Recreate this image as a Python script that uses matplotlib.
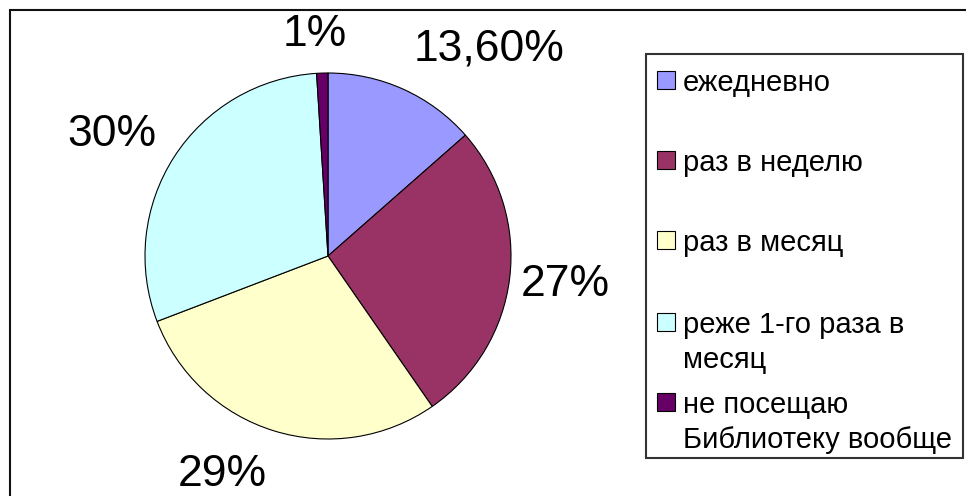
import matplotlib.pyplot as plt
from matplotlib.patches import Rectangle

# data
categories = ['ежедневно', 'раз в неделю', 'раз в месяц',
              'реже 1-го раза в\nмесяц', 'не посещаю\nБиблиотеку вообще']
values = [13.6, 27, 29, 30, 1]
value_labels = ['13,60%', '27%', '29%', '30%', '1%']
colors = ['#9999FF', '#993366', '#FFFFCC', '#CCFFFF', '#660066']

W, H = 966, 496
plt.rcParams['font.family'] = ['Liberation Sans', 'DejaVu Sans']

fig = plt.figure(figsize=(W / 100, H / 100), dpi=100)
ax = fig.add_axes([0, 0, 1, 1])
ax.set_xlim(0, W)
ax.set_ylim(0, H)
ax.set_aspect('equal')
ax.axis('off')

# outer frame (only top and left visible)
ax.add_patch(Rectangle((10, -20), 1000, H - 10 + 20, fill=False,
                       edgecolor='#111111', lw=1.5))

cx, cy, r = 328, H - 256, 183
ax.pie(values, colors=colors, startangle=90, counterclock=False,
       center=(cx, cy), radius=r, normalize=True,
       wedgeprops=dict(edgecolor='black', linewidth=0.8))
ax.set_xlim(0, W)
ax.set_ylim(0, H)

# percentage labels (pixel positions, y from top)
label_pos = [(489, 49), (565, 284), (222, 475), (112, 134), (315, 34)]
for txt, (x, y) in zip(value_labels, label_pos):
    ax.text(x, H - y, txt, fontsize=32, ha='center', va='center')

# legend
ax.add_patch(Rectangle((646, H - 458), 963 - 646, 458 - 54, fill=False,
                       edgecolor='#333333', lw=1.5))
entry_y = [80, 160, 240, 322, 402]
line_step = 35
for cat, col, y in zip(categories, colors, entry_y):
    ax.add_patch(Rectangle((657, H - y - 9), 18, 18, facecolor=col,
                           edgecolor='black', lw=0.8))
    for i, line in enumerate(cat.split('\n')):
        ax.text(683, H - y - i * line_step, line, fontsize=21,
                ha='left', va='center_baseline')

fig.savefig('out.png', dpi=100)
